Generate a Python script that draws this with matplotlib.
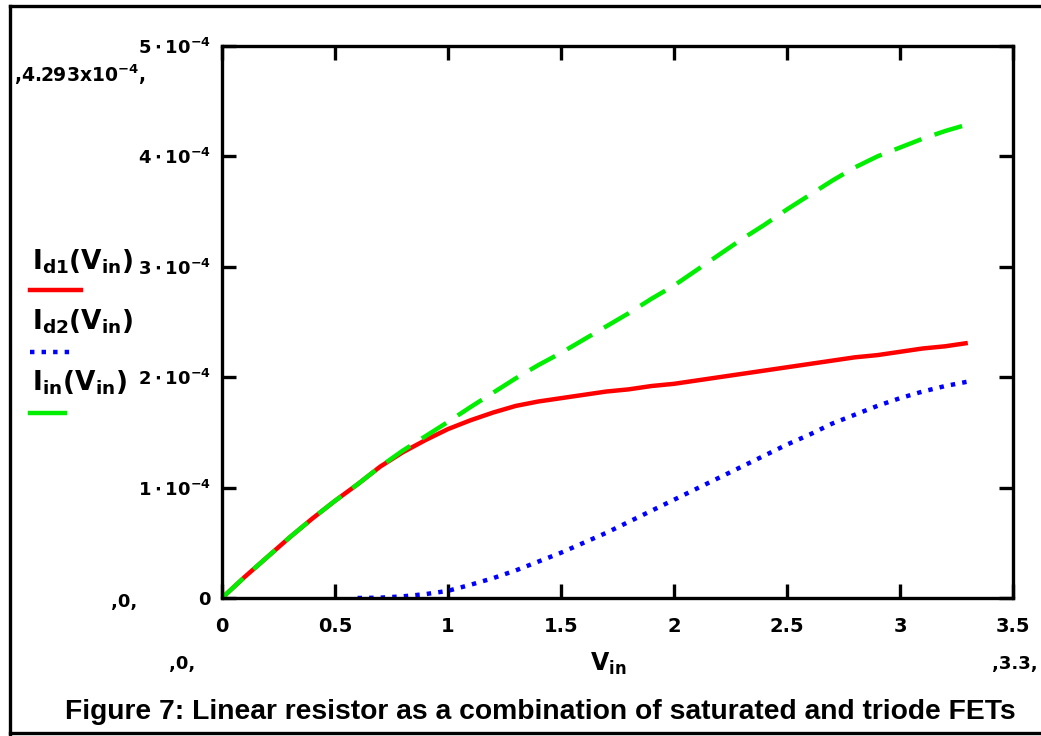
import numpy as np
import matplotlib
matplotlib.use("Agg")
import matplotlib.pyplot as plt
from matplotlib.lines import Line2D

plt.rcParams["mathtext.fontset"] = "dejavusans"
plt.rcParams["mathtext.default"] = "bf"
plt.rcParams["font.weight"] = "bold"

# input voltage grid (V)
v_in = [0.0, 0.1, 0.2, 0.3, 0.4, 0.5, 0.6, 0.7, 0.8, 0.9, 1.0, 1.1, 1.2, 1.3, 1.4, 1.5, 1.6,
        1.7, 1.8, 1.9, 2.0, 2.1, 2.2, 2.3, 2.4, 2.5, 2.6, 2.7, 2.8, 2.9, 3.0, 3.1, 3.2, 3.3]

# currents in units of 1e-4 A
i_d1 = [0.0, 0.19, 0.37, 0.55, 0.72, 0.88, 1.03, 1.19, 1.32, 1.43, 1.53, 1.61, 1.68, 1.74, 1.78, 1.81, 1.84,
        1.87, 1.89, 1.92, 1.94, 1.97, 2.00, 2.03, 2.06, 2.09, 2.12, 2.15, 2.18, 2.20, 2.23, 2.26, 2.28, 2.31]
i_d2 = [np.nan, np.nan, np.nan, np.nan, np.nan, np.nan, 0.0, 0.003, 0.015, 0.035, 0.065, 0.12, 0.18, 0.25,
        0.33, 0.41, 0.50, 0.59, 0.69, 0.79, 0.89, 0.99, 1.09, 1.19, 1.29, 1.39, 1.48, 1.58, 1.66, 1.74,
        1.81, 1.87, 1.92, 1.96]
i_in = [0.0, 0.19, 0.37, 0.55, 0.72, 0.88, 1.03, 1.19, 1.335, 1.465, 1.595, 1.73, 1.86, 1.99, 2.11, 2.22, 2.34,
        2.46, 2.58, 2.71, 2.83, 2.97, 3.11, 3.25, 3.38, 3.52, 3.65, 3.78, 3.90, 4.00, 4.08, 4.16, 4.23, 4.29]

x_ticks = [0, 0.5, 1, 1.5, 2, 2.5, 3, 3.5]
x_tick_labels = ["0", "0.5", "1", "1.5", "2", "2.5", "3", "3.5"]
y_ticks = [0, 1e-4, 2e-4, 3e-4, 4e-4, 5e-4]
y_tick_labels = ["0", r"$1\cdot10^{-4}$", r"$2\cdot10^{-4}$", r"$3\cdot10^{-4}$",
                 r"$4\cdot10^{-4}$", r"$5\cdot10^{-4}$"]

W, H = 1041, 736
fig = plt.figure(figsize=(W / 100, H / 100), dpi=100)
fig.patch.set_facecolor("white")


def fx(px):
    return px / W


def fy(py):
    return 1 - py / H


ax = fig.add_axes([fx(222), fy(598), (1013 - 222) / W, (598 - 46) / H])

scale = 1e-4
ax.plot(v_in, np.array(i_d1) * scale, color="#ff0000", lw=3.2, solid_capstyle="butt")
ax.plot(v_in, np.array(i_d2) * scale, color="#0000ff", lw=3.2, dashes=(1.0, 1.6))
ax.plot(v_in, np.array(i_in) * scale, color="#00ee00", lw=3.2, dashes=(6.5, 3.1))

ax.set_xlim(0, 3.5)
ax.set_ylim(0, 5e-4)
ax.set_xticks(x_ticks)
ax.set_xticklabels(x_tick_labels, fontsize=14, fontweight="bold")
ax.set_yticks(y_ticks)
ax.set_yticklabels(y_tick_labels, fontsize=13)
ax.tick_params(direction="in", length=10, width=2.4, top=True, right=True)
ax.tick_params(axis="x", pad=14)
ax.tick_params(axis="y", pad=8)
for s in ax.spines.values():
    s.set_linewidth(2.4)

# Mathcad axis limit labels
fig.text(fx(14), fy(75), r",4.293x10$^{-4}$,", fontsize=13.5, ha="left", va="center")
fig.text(fx(124), fy(602), ",0,", fontsize=13, ha="center", va="center")
fig.text(fx(182), fy(664), ",0,", fontsize=13, ha="center", va="center")
fig.text(fx(1015), fy(664), ",3.3,", fontsize=13, ha="center", va="center")

# x label
fig.text(fx(608), fy(664), r"$V_{in}$", fontsize=17, ha="center", va="center")

# left legend
fig.text(fx(32), fy(262), r"$I_{d1}\left(V_{in}\right)$", fontsize=19, ha="left", va="center")
fig.text(fx(32), fy(322), r"$I_{d2}\left(V_{in}\right)$", fontsize=19, ha="left", va="center")
fig.text(fx(32), fy(383), r"$I_{in}\left(V_{in}\right)$", fontsize=19, ha="left", va="center")
fig.add_artist(Line2D([fx(30), fx(81)], [fy(290), fy(290)], color="#ff0000", lw=3.2))
fig.add_artist(Line2D([fx(30), fx(72)], [fy(352), fy(352)], color="#0000ff", lw=3.2, dashes=(1.0, 1.6)))
fig.add_artist(Line2D([fx(30), fx(65)], [fy(413), fy(413)], color="#00ee00", lw=3.2))

# caption
fig.text(fx(540), fy(712), "Figure 7: Linear resistor as a combination of saturated and triode FETs",
         fontsize=20.3, fontweight="bold", family="Liberation Sans", ha="center", va="center")

# outer frame
fig.add_artist(Line2D([fx(10), fx(10)], [fy(6), fy(736)], color="black", lw=2.4))
fig.add_artist(Line2D([fx(10), fx(1041)], [fy(6), fy(6)], color="black", lw=2.4))
fig.add_artist(Line2D([fx(10), fx(1041)], [fy(733), fy(733)], color="black", lw=2.4))

fig.savefig("out.png", dpi=100)
